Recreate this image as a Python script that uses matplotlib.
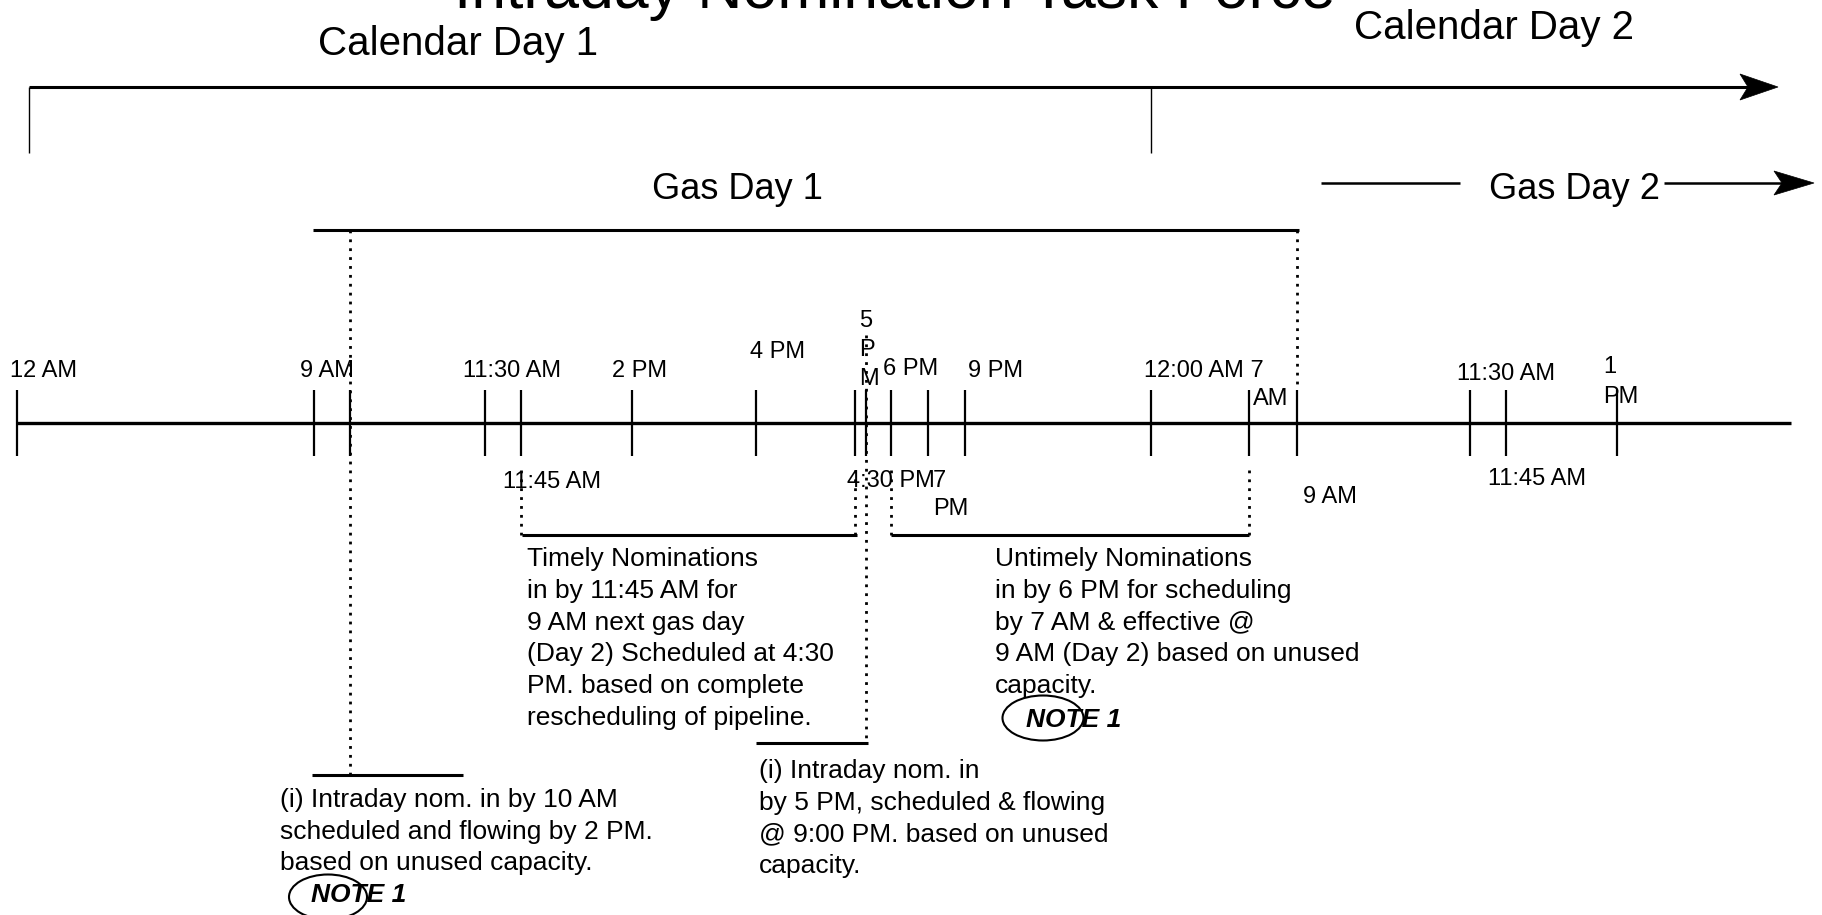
import matplotlib
matplotlib.use("Agg")
import matplotlib.pyplot as plt
from matplotlib.patches import Ellipse, Polygon

plt.rcParams['font.family'] = ['Liberation Sans', 'DejaVu Sans']

W, H = 1822, 915

# ---------------- data ----------------
title = "Intraday Nomination Task Force"
calendar_labels = ["Calendar Day 1", "Calendar Day 2"]
gas_labels = ["Gas Day 1", "Gas Day 2"]

# schematic timeline tick positions (diagram units = pixels)
tick_positions = [17, 314, 350, 485, 521, 632, 756, 855, 866, 891, 928, 965,
                  1151, 1249, 1297, 1470, 1506, 1617]

above_labels = ["12 AM", "9 AM", "11:30 AM", "2 PM", "4 PM", "5\nP\nM", "6 PM",
                "9 PM", "12:00 AM 7", "AM", "11:30 AM", "1\nPM"]
above_x = [10, 300, 463, 612, 750, 859, 883, 968, 1144, 1253, 1457, 1603]
above_y = [377, 377, 377, 377, 358, 327, 375, 377, 377, 405, 380, 373]

below_labels = ["11:45 AM", "4:30 PM", "7\nPM", "9 AM", "11:45 AM"]
below_x = [503, 847, 933, 1303, 1488]
below_y = [488, 487, 487, 503, 485]

timely_text = ["Timely Nominations", "in by 11:45 AM for", "9 AM next gas day",
               "(Day 2) Scheduled at 4:30", "PM. based on complete",
               "rescheduling of pipeline."]
untimely_text = ["Untimely Nominations", "in by 6 PM for scheduling",
                 "by 7 AM & effective @", "9 AM (Day 2) based on unused",
                 "capacity."]
intraday1_text = ["(i) Intraday nom. in by 10 AM", "scheduled and flowing by 2 PM.",
                  "based on unused capacity."]
intraday2_text = ["(i) Intraday nom. in", "by 5 PM, scheduled & flowing",
                  "@ 9:00 PM. based on unused", "capacity."]
note_label = "NOTE 1"

# ---------------- drawing ----------------
fig = plt.figure(figsize=(W / 100, H / 100), dpi=100)
ax = fig.add_axes([0, 0, 1, 1])
ax.set_xlim(0, W)
ax.set_ylim(H, 0)
ax.axis('off')

K = 'black'
DOT = (0, (1, 2.2))


def lines_text(lines, x, y0, step, size, **kw):
    if isinstance(lines, str):
        lines = lines.split("\n")
    for i, s in enumerate(lines):
        ax.text(x, y0 + i * step, s, fontsize=size, ha='left', va='baseline',
                color=K, **kw)


def arrow_head(tip_x, y, length, half_h, notch):
    ax.add_patch(Polygon([(tip_x, y), (tip_x - length, y - half_h),
                          (tip_x - length + notch, y), (tip_x - length, y + half_h)],
                         closed=True, facecolor=K, edgecolor=K, lw=0.5))


def hline(x0, x1, y, lw=2.0, ls='-'):
    ax.plot([x0, x1], [y, y], color=K, lw=lw, ls=ls, solid_capstyle='butt')


def vline(x, y0, y1, lw=1.5, ls='-'):
    ax.plot([x, x], [y0, y1], color=K, lw=lw, ls=ls, solid_capstyle='butt',
            dash_capstyle='butt')


# title (clipped at the top as in reference)
ax.text(895, 8, title, fontsize=45, ha='center', va='baseline', color=K)

# calendar days
ax.text(318, 55, calendar_labels[0], fontsize=29, ha='left', va='baseline', color=K)
ax.text(1354, 39, calendar_labels[1], fontsize=29, ha='left', va='baseline', color=K)
hline(29, 1750, 87, lw=2.2)
arrow_head(1778, 87, 38, 13, 8)
vline(29, 87, 153, lw=1.0)
vline(1151, 87, 153, lw=1.0)

# gas days
ax.text(652, 199, gas_labels[0], fontsize=26, ha='left', va='baseline', color=K)
hline(313, 1299, 230, lw=2.2)
ax.text(1489, 199, gas_labels[1], fontsize=26, ha='left', va='baseline', color=K)
hline(1321, 1460, 183, lw=1.8)
hline(1664, 1785, 183, lw=1.8)
arrow_head(1814, 183, 40, 12, 8)

# main timeline
hline(17, 1791, 423, lw=2.4)
for x in tick_positions:
    vline(x, 390, 456, lw=1.6)

for s, x, y in zip(above_labels, above_x, above_y):
    step = 29 if s.startswith("5") else 30
    lines_text(s, x, y, step, 17)
for s, x, y in zip(below_labels, below_x, below_y):
    lines_text(s, x, y, 28, 17)

# dotted connectors
vline(350, 230, 775, lw=2.0, ls=DOT)
vline(521, 470, 535, lw=2.0, ls=DOT)
vline(855, 470, 535, lw=2.0, ls=DOT)
vline(866, 335, 743, lw=2.0, ls=DOT)
vline(891, 470, 535, lw=2.0, ls=DOT)
vline(1249, 470, 535, lw=2.0, ls=DOT)
vline(1297, 230, 390, lw=2.0, ls=DOT)

# brackets
hline(312, 463, 775, lw=2.2)
hline(522, 857, 535, lw=2.2)
hline(756, 868, 743, lw=2.2)
hline(891, 1249, 535, lw=2.2)

# paragraphs
lines_text(timely_text, 527, 566, 31.8, 19)
lines_text(untimely_text, 995, 566, 31.8, 19)
lines_text(intraday1_text, 280, 807, 31.6, 19)
lines_text(intraday2_text, 759, 778, 31.8, 19)

# NOTE 1 markers
ax.add_patch(Ellipse((328, 897), 78, 45, fill=False, edgecolor=K, lw=1.5))
ax.text(311, 902, note_label, fontsize=19, fontweight='bold', fontstyle='italic',
        ha='left', va='baseline', color=K)
ax.add_patch(Ellipse((1043, 718), 81, 45, fill=False, edgecolor=K, lw=1.5))
ax.text(1026, 727, note_label, fontsize=19, fontweight='bold', fontstyle='italic',
        ha='left', va='baseline', color=K)

fig.savefig("out.png", dpi=100, facecolor='white')
